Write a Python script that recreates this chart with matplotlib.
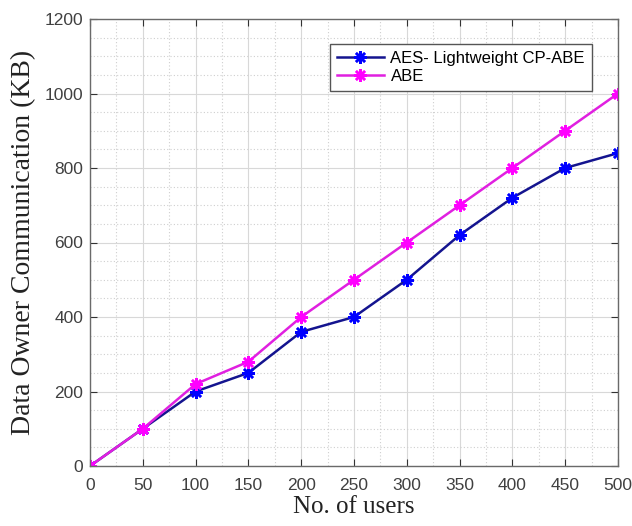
import matplotlib.pyplot as plt
from matplotlib.ticker import MultipleLocator

users = [0, 50, 100, 150, 200, 250, 300, 350, 400, 450, 500]
aes_lw_cpabe = [0, 100, 200, 250, 360, 400, 500, 620, 720, 800, 840]
abe = [0, 100, 220, 280, 400, 500, 600, 700, 800, 900, 1000]

fig = plt.figure(figsize=(6.32, 5.26), dpi=100)
ax = fig.add_axes([90 / 632, 1 - 466 / 526, (618 - 90) / 632, (466 - 19) / 526])

star = (8, 2, 0)
ax.plot(users, aes_lw_cpabe, color='#14148f', lw=1.8, marker=star, ms=9,
        mec='#0000ff', mew=1.8, label='AES- Lightweight CP-ABE')
ax.plot(users, abe, color='#e020e0', lw=1.8, marker=star, ms=9,
        mec='#ff00ff', mew=1.8, label='ABE')

ax.set_xlim(0, 500)
ax.set_ylim(0, 1200)
ax.xaxis.set_major_locator(MultipleLocator(50))
ax.xaxis.set_minor_locator(MultipleLocator(25))
ax.yaxis.set_major_locator(MultipleLocator(200))
ax.yaxis.set_minor_locator(MultipleLocator(50))

ax.grid(True, which='major', color='#d8d8d8', lw=0.8, ls='-')
ax.grid(True, which='minor', color='#cfcfcf', lw=0.8, ls=(0, (1, 2)))
ax.set_axisbelow(True)

for s in ax.spines.values():
    s.set_color('#6a6a6a')
    s.set_linewidth(1.0)
ax.tick_params(which='major', direction='in', length=5, color='#333333',
               top=True, right=True, labelsize=12.5, labelcolor='#404040')
ax.tick_params(axis='x', which='major', pad=9)
ax.tick_params(axis='y', which='major', pad=5)
ax.tick_params(which='minor', length=0)
for lab in ax.get_xticklabels() + ax.get_yticklabels():
    lab.set_family('Liberation Sans')

ax.set_xlabel('No. of users', family='Liberation Serif', fontsize=18,
              color='#222222', labelpad=2)
ax.set_ylabel('Data Owner Communication (KB)', family='Liberation Serif',
              fontsize=20, color='#222222', labelpad=6)

leg = ax.legend(loc='upper right', bbox_to_anchor=(600 / 632, 1 - 36 / 526),
                bbox_transform=fig.transFigure, fancybox=False,
                framealpha=1, edgecolor='#555555', borderpad=0.4,
                labelspacing=0.2, handlelength=2.8, handletextpad=0.4,
                prop={'family': 'Liberation Sans', 'size': 12})
leg.get_frame().set_linewidth(1.0)

fig.savefig('out.png', dpi=100)
